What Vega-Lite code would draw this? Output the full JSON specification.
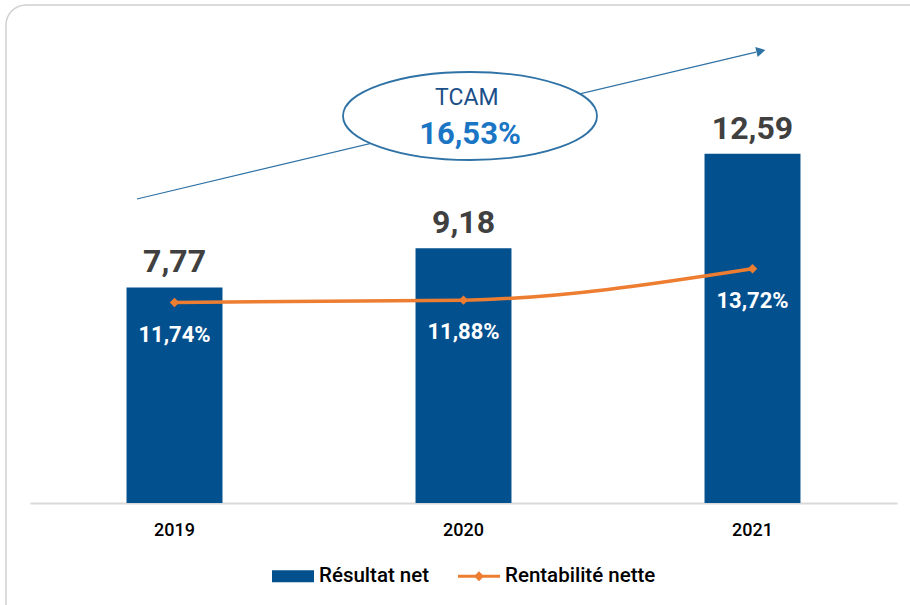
{
  "$schema": "https://vega.github.io/schema/vega-lite/v6.json",
  "width": 867,
  "height": 444,
  "autosize": "none",
  "padding": {"left": 30, "top": 59, "right": 13, "bottom": 102},
  "background": "white",
  "config": {"view": {"stroke": null}, "font": "Roboto"},
  "data": {
    "values": [
      {"annee": "2019", "idx": 0, "resultat": 7.77, "rent": 11.74, "lab": "7,77", "plab": "11,74%", "serie": "Résultat net"},
      {"annee": "2020", "idx": 1, "resultat": 9.18, "rent": 11.88, "lab": "9,18", "plab": "11,88%", "serie": "Résultat net"},
      {"annee": "2021", "idx": 2, "resultat": 12.59, "rent": 13.72, "lab": "12,59", "plab": "13,72%", "serie": "Résultat net"}
    ]
  },
  "resolve": {"scale": {"x": "independent", "y": "independent"}},
  "layer": [
    {
      "data": {"values": [{"x": -0.583, "x2": 3, "y": 17.95, "y2": -5}]},
      "mark": {"type": "rect", "filled": false, "stroke": "#d0d0d0", "strokeWidth": 1.5, "cornerRadius": 20},
      "encoding": {
        "x": {"field": "x", "type": "quantitative", "scale": {"domain": [-0.5, 2.5], "nice": false, "zero": false}, "axis": null},
        "x2": {"field": "x2"},
        "y": {"field": "y", "type": "quantitative", "scale": {"domain": [0, 16], "nice": false}, "axis": null},
        "y2": {"field": "y2"}
      }
    },
    {
      "data": {"values": [{"x": -0.13, "y": 10.955, "x2": 2.012, "y2": 16.25}]},
      "mark": {"type": "rule", "stroke": "#2E72A6", "strokeWidth": 1.2},
      "encoding": {
        "x": {"field": "x", "type": "quantitative", "scale": {"domain": [-0.5, 2.5], "nice": false, "zero": false}, "axis": null},
        "x2": {"field": "x2"},
        "y": {"field": "y", "type": "quantitative", "scale": {"domain": [0, 16], "nice": false}, "axis": null},
        "y2": {"field": "y2"}
      }
    },
    {
      "data": {"values": [{"x": 2.029, "y": 16.29}]},
      "mark": {"type": "point", "shape": "triangle-right", "filled": true, "color": "#2E72A6", "opacity": 1, "size": 110, "angle": -13.35},
      "encoding": {
        "x": {"field": "x", "type": "quantitative", "scale": {"domain": [-0.5, 2.5], "nice": false, "zero": false}, "axis": null},
        "y": {"field": "y", "type": "quantitative", "scale": {"domain": [0, 16], "nice": false}, "axis": null}
      }
    },
    {
      "data": {"values": [{"x": 1.0225, "y": 13.946}]},
      "mark": {"type": "point", "shape": "M-1,0A1,0.3465,0,1,1,1,0A1,0.3465,0,1,1,-1,0Z", "filled": true, "fill": "white", "stroke": "#2E72A6", "strokeWidth": 1.8, "opacity": 1, "size": 64516},
      "encoding": {
        "x": {"field": "x", "type": "quantitative", "scale": {"domain": [-0.5, 2.5], "nice": false, "zero": false}, "axis": null},
        "y": {"field": "y", "type": "quantitative", "scale": {"domain": [0, 16], "nice": false}, "axis": null}
      }
    },
    {
      "data": {"values": [
        {"x": 1.0115, "y": 14.577, "t": "TCAM", "k": "a"},
        {"x": 1.0225, "y": 13.26, "t": "16,53%", "k": "b"}
      ]},
      "layer": [
        {
          "transform": [{"filter": "datum.k === 'a'"}],
          "mark": {"type": "text", "fontSize": 23, "font": "Roboto", "color": "#1B4F8A", "baseline": "middle", "align": "center"},
          "encoding": {
            "x": {"field": "x", "type": "quantitative", "scale": {"domain": [-0.5, 2.5], "nice": false, "zero": false}, "axis": null},
            "y": {"field": "y", "type": "quantitative", "scale": {"domain": [0, 16], "nice": false}, "axis": null},
            "text": {"field": "t"}
          }
        },
        {
          "transform": [{"filter": "datum.k === 'b'"}],
          "mark": {"type": "text", "fontSize": 31, "fontWeight": "bold", "font": "Roboto", "color": "#1A75C4", "baseline": "middle", "align": "center"},
          "encoding": {
            "x": {"field": "x", "type": "quantitative", "scale": {"domain": [-0.5, 2.5], "nice": false, "zero": false}, "axis": null},
            "y": {"field": "y", "type": "quantitative", "scale": {"domain": [0, 16], "nice": false}, "axis": null},
            "text": {"field": "t"}
          }
        }
      ]
    },
    {
      "mark": {"type": "bar"},
      "encoding": {
        "x": {
          "field": "annee", "type": "nominal",
          "scale": {"paddingInner": 0.668, "paddingOuter": 0.334},
          "axis": {"title": null, "domainColor": "#d9d9d9", "domainWidth": 2, "ticks": false, "labelAngle": 0, "labelFontSize": 18, "labelFont": "Roboto", "labelFontWeight": 500, "labelColor": "black", "labelPadding": 18}
        },
        "y": {"field": "resultat", "type": "quantitative", "scale": {"domain": [0, 16], "nice": false}, "axis": null},
        "color": {
          "field": "serie", "type": "nominal",
          "scale": {"domain": ["Résultat net", "Rentabilité nette"], "range": ["#03508F", "#ED7D31"]},
          "legend": {
            "orient": "none", "legendX": 242, "legendY": 496, "direction": "horizontal", "title": null,
            "symbolSize": 1764, "labelFontSize": 20.5, "labelFont": "Roboto", "labelFontWeight": 500, "labelColor": "black",
            "columnPadding": 28, "labelOffset": 5, "symbolStrokeWidth": 0,
            "encode": {
              "symbols": {
                "update": {
                  "shape": {"signal": "datum.value === 'Résultat net' ? 'M-1,-0.29H1V0.29H-1Z' : 'M-1,-0.075H1V0.075H-1ZM-0.24,0L0,-0.24L0.24,0L0,0.24Z'"},
                  "fill": {"signal": "datum.value === 'Résultat net' ? '#03508F' : '#ED7D31'"},
                  "strokeWidth": {"value": 0},
                  "opacity": {"value": 1},
                  "fillOpacity": {"value": 1}
                }
              }
            }
          }
        }
      }
    },
    {
      "mark": {"type": "text", "fontSize": 32, "fontWeight": "bold", "font": "Roboto", "color": "#404040", "baseline": "alphabetic", "align": "center", "dy": -15},
      "encoding": {
        "x": {"field": "idx", "type": "quantitative", "scale": {"domain": [-0.5, 2.5], "nice": false, "zero": false}, "axis": null},
        "y": {"field": "resultat", "type": "quantitative", "scale": {"domain": [0, 16], "nice": false}, "axis": null},
        "text": {"field": "lab"}
      }
    },
    {
      "mark": {"type": "line", "color": "#ED7D31", "strokeWidth": 3.5, "interpolate": "monotone", "point": {"shape": "diamond", "filled": true, "size": 90, "color": "#ED7D31", "opacity": 1}},
      "encoding": {
        "x": {"field": "idx", "type": "quantitative", "scale": {"domain": [-0.5, 2.5], "nice": false, "zero": false}, "axis": null},
        "y": {"field": "rent", "type": "quantitative", "scale": {"domain": [0, 26], "nice": false}, "axis": null}
      }
    },
    {
      "mark": {"type": "text", "fontSize": 22, "fontWeight": "bold", "font": "Roboto", "color": "white", "baseline": "middle", "align": "center", "dy": 32},
      "encoding": {
        "x": {"field": "idx", "type": "quantitative", "scale": {"domain": [-0.5, 2.5], "nice": false, "zero": false}, "axis": null},
        "y": {"field": "rent", "type": "quantitative", "scale": {"domain": [0, 26], "nice": false}, "axis": null},
        "text": {"field": "plab"}
      }
    }
  ]
}
